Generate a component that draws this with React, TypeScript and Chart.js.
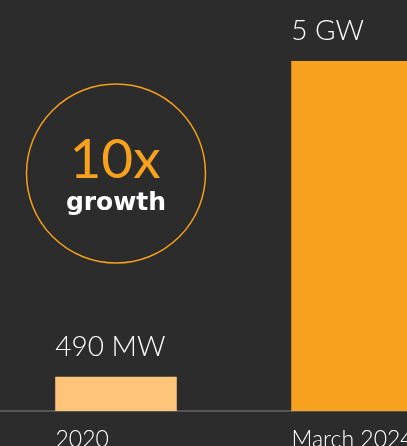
import { useEffect, useRef } from "react";
import { Chart, registerables } from "chart.js";

Chart.register(...registerables);

const categories = ["2020", "March 2024"];
const capacityMW = [490, 5000];
const valueLabels = ["490 MW", "5 GW"];
const barColors = ["#FEC57A", "#F8A11E"];
const axisMaxMW = 5000;
const growthText = "10x";
const growthCaption = "growth";

const BG = "#2C2C2C";

const overlayPlugin = {
  id: "overlay",
  afterDatasetsDraw(chart: any) {
    const ctx = chart.ctx as CanvasRenderingContext2D;
    const meta = chart.getDatasetMeta(0);
    ctx.save();
    // value labels
    ctx.fillStyle = "#FFFFFF";
    ctx.font = "300 28px Lato";
    ctx.textAlign = "left";
    ctx.textBaseline = "alphabetic";
    meta.data.forEach((bar: any, i: number) => {
      const { x, y, width } = bar.getProps(["x", "y", "width"], true);
      ctx.fillText(valueLabels[i], x - width / 2, y - 21);
    });
    // growth badge
    const b0 = meta.data[0];
    const cx = b0.x;
    const cy = chart.chartArea.top + 112.5;
    ctx.beginPath();
    ctx.arc(cx, cy, 89.5, 0, Math.PI * 2);
    ctx.strokeStyle = "#F5A01C";
    ctx.lineWidth = 1.5;
    ctx.stroke();
    ctx.textAlign = "center";
    ctx.fillStyle = "#F8A11E";
    ctx.font = "400 55px Lato";
    ctx.fillText(growthText, cx - 1, cy + 4.5);
    ctx.fillStyle = "#FFFFFF";
    ctx.font = "bold 25px 'DejaVu Sans'";
    ctx.fillText(growthCaption, cx, cy + 36.5);
    ctx.restore();
  },
};

export default function App() {
  const ref = useRef<HTMLCanvasElement | null>(null);

  useEffect(() => {
    document.body.style.margin = "0";
    document.body.style.background = BG;
    document.body.style.overflow = "hidden";
    document.documentElement.style.background = BG;
    if (!ref.current) return;
    const chart = new Chart(ref.current, {
      type: "bar",
      data: {
        labels: categories,
        datasets: [
          {
            data: capacityMW,
            backgroundColor: barColors,
            borderWidth: 0,
            barPercentage: 1,
            categoryPercentage: 0.515,
          },
        ],
      },
      options: {
        animation: false,
        responsive: false,
        devicePixelRatio: 1,
        layout: {
          padding: { top: 61, left: 0, right: 60, bottom: 12.7 },
        },
        plugins: {
          legend: { display: false },
          tooltip: { enabled: false },
        },
        scales: {
          x: {
            offset: true,
            grid: { display: false, drawTicks: false },
            border: { display: true, color: "#555555", width: 2 },
            ticks: {
              color: "#FFFFFF",
              font: { family: "Lato", size: 23, weight: 300 as any, lineHeight: 1.1 },
              padding: 15.5,
              align: "start",
              labelOffset: -60.5,
              maxRotation: 0,
              autoSkip: false,
            },
          },
          y: { display: false, min: 0, max: axisMaxMW },
        },
      },
      plugins: [overlayPlugin],
    });
    return () => chart.destroy();
  }, []);

  return (
    <div style={{ position: "fixed", inset: 0, background: BG, overflow: "hidden" }}>
      <canvas
        ref={ref}
        width={532}
        height={480}
        style={{ position: "absolute", left: -2, top: 0, width: 532, height: 480 }}
      />
    </div>
  );
}
